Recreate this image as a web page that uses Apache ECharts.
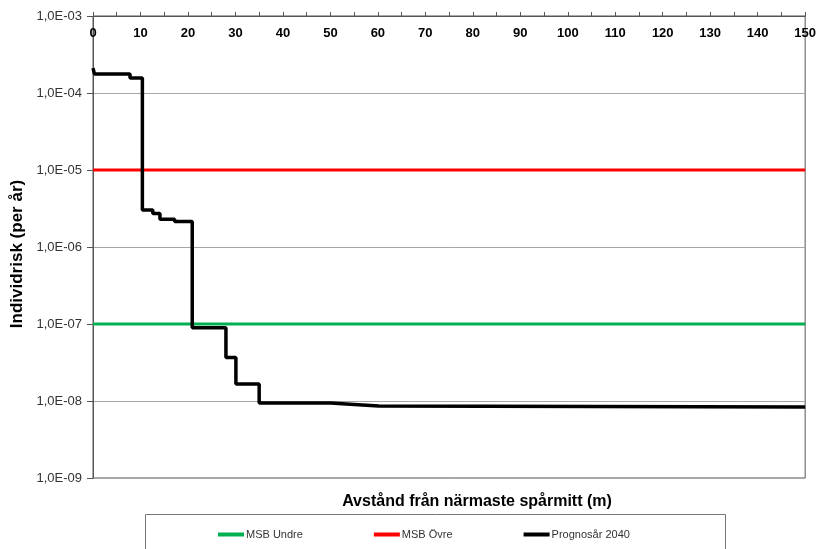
<!DOCTYPE html>
<html>
<head>
<meta charset="utf-8">
<script src="https://cdn.jsdelivr.net/npm/echarts@6/dist/echarts.min.js"></script>
<style>
html,body{margin:0;padding:0;background:#fff;}
#chart{width:819px;height:549px;}
</style>
</head>
<body>
<div id="chart"></div>
<script>
// Data
var distances = [0, 0.3, 7.8, 10.4, 12.6, 14.1, 17.2, 20.9, 28.0, 30.1, 35.0, 50.1, 55.0, 60.2, 150];
var prognos2040 = [2.1e-4, 1.77e-4, 1.57e-4, 3.02e-6, 2.73e-6, 2.29e-6, 2.15e-6, 8.95e-8, 3.66e-8, 1.66e-8, 9.4e-9, 9.0e-9, 8.6e-9, 8.35e-9, 8.35e-9];
var msbUndre = 1e-7;
var msbOvre = 1e-5;
var xRange = [0, 150];
var seriesNames = ['MSB Undre', 'MSB Övre', 'Prognosår 2040'];
var xTitle = 'Avstånd från närmaste spårmitt (m)';
var yTitle = 'Individrisk (per år)';

function pairs(xs, ys) { return xs.map(function (x, i) { return [x, ys[i]]; }); }
function flat(v) { return [[xRange[0], v], [xRange[1], v]]; }
function fmt(v) {
  var e = Math.round(Math.log10(v));
  var s = Math.abs(e) < 10 ? '0' + Math.abs(e) : '' + Math.abs(e);
  return '1,0E' + (e < 0 ? '-' : '+') + s;
}

var chart = echarts.init(document.getElementById('chart'), null, {renderer: 'canvas'});
var font = 'Liberation Sans, Arial, sans-serif';
chart.setOption({
  backgroundColor: '#fff',
  animation: false,
  textStyle: {fontFamily: font},
  grid: {left: 93, right: 11, top: 16, bottom: 71, show: true, borderColor: '#555', borderWidth: 1, backgroundColor: 'transparent'},
  xAxis: {
    type: 'value', position: 'top', min: xRange[0], max: xRange[1], interval: 10,
    axisLine: {show: true, lineStyle: {color: '#555', width: 1}},
    axisTick: {show: true, inside: false, length: 4, lineStyle: {color: '#555'}},
    minorTick: {show: true, splitNumber: 2, length: 4, lineStyle: {color: '#555'}},
    axisLabel: {inside: true, margin: 11, color: '#000', fontWeight: 'bold', fontSize: 13, fontFamily: font},
    splitLine: {show: false}
  },
  yAxis: {
    type: 'log', logBase: 10, min: 1e-9, max: 1e-3, interval: 1,
    axisLine: {show: true, lineStyle: {color: '#555', width: 1}},
    axisTick: {show: true, length: 6, lineStyle: {color: '#555'}},
    axisLabel: {margin: 11, color: '#333', fontSize: 13, fontFamily: font, formatter: fmt},
    splitLine: {show: true, lineStyle: {color: '#a6a6a6', width: 1}}
  },
  legend: {
    left: 213, top: 524, itemGap: 71, itemWidth: 26, itemHeight: 4,
    icon: 'rect',
    textStyle: {fontSize: 11, color: '#333', fontFamily: font, padding: [0, 0, 0, -3]},
    data: seriesNames
  },
  graphic: [
    {type: 'rect', left: 143, top: 512, shape: {width: 580, height: 50}, style: {fill: 'none', stroke: '#777', lineWidth: 1}, z: -1},
    {type: 'text', x: 477, y: 502, style: {text: xTitle, font: 'bold 16px ' + font, fill: '#000', align: 'center', verticalAlign: 'middle'}},
    {type: 'text', x: 17, y: 254, rotation: Math.PI / 2, style: {text: yTitle, font: 'bold 17px ' + font, fill: '#000', align: 'center', verticalAlign: 'middle'}}
  ],
  series: [
    {name: seriesNames[0], type: 'line', data: flat(msbUndre), showSymbol: false, symbol: 'none', lineStyle: {color: '#00b050', width: 3}, itemStyle: {color: '#00b050'}},
    {name: seriesNames[1], type: 'line', data: flat(msbOvre), showSymbol: false, symbol: 'none', lineStyle: {color: '#ff0000', width: 3}, itemStyle: {color: '#ff0000'}},
    {name: seriesNames[2], type: 'line', step: 'end', data: pairs(distances, prognos2040), showSymbol: false, symbol: 'none', lineStyle: {color: '#000', width: 3.5}, itemStyle: {color: '#000'}}
  ]
});
</script>
</body>
</html>
